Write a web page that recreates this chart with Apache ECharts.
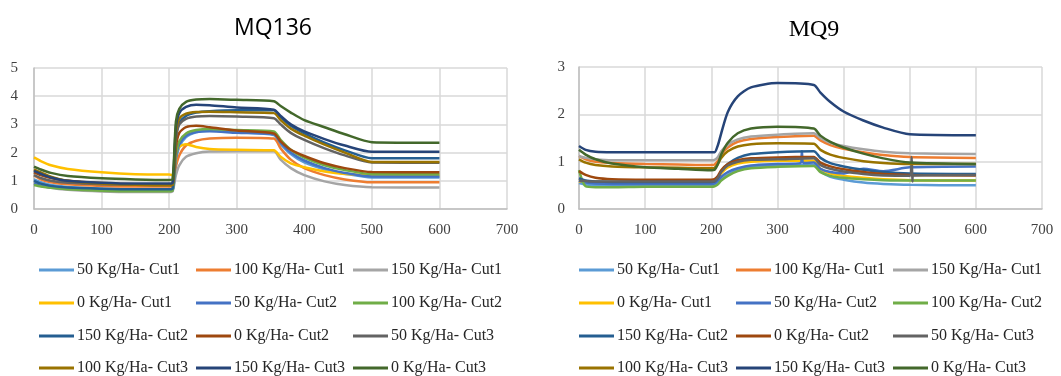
<!DOCTYPE html>
<html>
<head>
<meta charset="utf-8">
<script src="https://cdn.jsdelivr.net/npm/echarts@6/dist/echarts.min.js"></script>
<style>
html,body{margin:0;padding:0;background:#fff;}
#c{width:1061px;height:376px;}
</style>
</head>
<body>
<div id="c"></div>
<script>
// ---- DATA ----
const seriesNames = ["50 Kg/Ha- Cut1","100 Kg/Ha- Cut1","150 Kg/Ha- Cut1","0 Kg/Ha- Cut1",
  "50 Kg/Ha- Cut2","100 Kg/Ha- Cut2","150 Kg/Ha- Cut2","0 Kg/Ha- Cut2",
  "50 Kg/Ha- Cut3","100 Kg/Ha- Cut3","150 Kg/Ha- Cut3","0 Kg/Ha- Cut3"];
const colors = ["#5B9BD5","#ED7D31","#A5A5A5","#FFC000","#4472C4","#70AD47",
  "#255E91","#9E480E","#636363","#997300","#264478","#43682B"];
const xTime = [0,10,25,50,100,150,200,205,210,215,225,240,260,300,355,365,380,400,430,460,500,600];
const xTicks = [0,100,200,300,400,500,600,700];
const mq136Ticks = [0,1,2,3,4,5];
const mq9Ticks = [0,1,2,3];

// MQ136 values
const mq136_50_c1  = [1.05,0.95,0.85,0.78,0.72,0.70,0.70,0.70,1.70,2.20,2.55,2.72,2.78,2.72,2.62,2.30,1.95,1.65,1.40,1.25,1.12,1.12];
const mq136_100_c1 = [1.20,1.05,0.95,0.88,0.82,0.80,0.80,0.80,1.50,1.90,2.25,2.42,2.50,2.53,2.50,2.15,1.75,1.45,1.20,1.05,0.95,0.95];
const mq136_150_c1 = [0.95,0.85,0.75,0.68,0.62,0.60,0.60,0.62,1.20,1.55,1.85,1.98,2.04,2.05,2.05,1.75,1.45,1.20,0.98,0.85,0.77,0.76];
const mq136_0_c1   = [1.83,1.70,1.55,1.42,1.30,1.23,1.22,1.20,1.90,2.20,2.30,2.20,2.13,2.10,2.08,1.85,1.62,1.48,1.33,1.24,1.20,1.20];
const mq136_50_c2  = [0.90,0.82,0.76,0.72,0.68,0.66,0.66,0.66,1.80,2.30,2.60,2.73,2.76,2.70,2.65,2.35,2.00,1.72,1.45,1.28,1.15,1.15];
const mq136_100_c2 = [0.85,0.80,0.75,0.70,0.65,0.63,0.63,0.65,1.90,2.40,2.68,2.80,2.84,2.80,2.75,2.45,2.10,1.82,1.55,1.38,1.24,1.23];
const mq136_150_c2 = [1.00,0.90,0.82,0.76,0.72,0.70,0.70,0.72,2.50,3.05,3.30,3.42,3.47,3.50,3.50,3.25,2.95,2.68,2.35,2.08,1.80,1.80];
const mq136_0_c2   = [1.30,1.20,1.10,1.00,0.92,0.88,0.87,0.88,2.20,2.70,2.90,2.95,2.90,2.78,2.68,2.40,2.10,1.88,1.62,1.45,1.31,1.30];
const mq136_50_c3  = [1.20,1.10,1.00,0.93,0.88,0.86,0.85,0.86,2.50,3.00,3.20,3.28,3.30,3.28,3.22,3.00,2.70,2.45,2.15,1.90,1.65,1.64];
const mq136_100_c3 = [1.40,1.30,1.15,1.00,0.90,0.86,0.84,0.85,2.70,3.20,3.38,3.44,3.45,3.43,3.40,3.15,2.85,2.60,2.28,2.00,1.67,1.67];
const mq136_150_c3 = [1.35,1.25,1.12,1.00,0.93,0.90,0.90,0.92,2.90,3.40,3.62,3.70,3.68,3.60,3.52,3.30,3.00,2.75,2.48,2.25,2.03,2.03];
const mq136_0_c3   = [1.50,1.40,1.28,1.17,1.09,1.05,1.03,1.05,3.10,3.55,3.80,3.88,3.90,3.87,3.82,3.65,3.42,3.15,2.90,2.65,2.37,2.35];

// MQ9 values
const mq9_50_c1  = [0.55,0.52,0.51,0.50,0.50,0.50,0.50,0.50,0.55,0.62,0.72,0.82,0.88,0.92,0.93,0.80,0.68,0.62,0.56,0.53,0.51,0.50];
const mq9_100_c1 = [1.12,1.05,1.00,0.97,0.95,0.94,0.93,0.94,1.02,1.15,1.30,1.42,1.48,1.52,1.55,1.45,1.35,1.27,1.20,1.14,1.10,1.08];
const mq9_150_c1 = [1.12,1.08,1.05,1.03,1.03,1.03,1.03,1.04,1.10,1.22,1.36,1.47,1.53,1.57,1.60,1.50,1.40,1.33,1.26,1.21,1.18,1.16];
const mq9_0_c1   = [0.58,0.57,0.57,0.57,0.57,0.57,0.57,0.58,0.65,0.75,0.88,0.96,1.00,1.02,1.02,0.85,0.75,0.70,0.66,0.63,0.61,0.60];
const mq9_50_c2  = [0.60,0.56,0.54,0.53,0.53,0.53,0.53,0.54,0.60,0.68,0.78,0.86,0.92,0.95,0.98,0.85,0.78,0.75,0.85,0.80,0.88,0.90];
const mq9_100_c2 = [0.82,0.48,0.46,0.46,0.47,0.47,0.47,0.48,0.52,0.60,0.70,0.80,0.86,0.89,0.91,0.78,0.70,0.66,0.63,0.61,0.60,0.60];
const mq9_150_c2 = [0.65,0.60,0.58,0.57,0.57,0.57,0.57,0.58,0.66,0.80,0.95,1.08,1.16,1.20,1.22,1.08,0.97,0.90,0.83,0.78,0.75,0.74];
const mq9_0_c2   = [0.80,0.72,0.66,0.63,0.62,0.62,0.62,0.63,0.70,0.82,0.95,1.03,1.07,1.09,1.10,0.98,0.90,0.84,0.78,0.74,0.72,0.71];
const mq9_50_c3  = [0.60,0.59,0.58,0.58,0.58,0.58,0.58,0.59,0.66,0.78,0.92,1.00,1.04,1.05,1.07,0.93,0.85,0.79,0.74,0.71,0.70,0.72];
const mq9_100_c3 = [1.05,0.98,0.93,0.90,0.88,0.87,0.86,0.87,0.95,1.08,1.22,1.32,1.37,1.39,1.38,1.25,1.15,1.08,1.01,0.97,0.95,0.95];
const mq9_150_c3 = [1.33,1.25,1.21,1.20,1.20,1.20,1.20,1.20,1.35,1.60,2.05,2.38,2.57,2.66,2.62,2.46,2.26,2.06,1.87,1.72,1.58,1.56];
const mq9_0_c3   = [1.25,1.15,1.05,0.96,0.88,0.85,0.82,0.83,0.95,1.15,1.40,1.60,1.70,1.74,1.70,1.55,1.42,1.30,1.17,1.07,0.98,0.95];

// isolated glitches visible in MQ9 traces
const mq9_50_c2_spike = [[335,0.97],[337,1.22],[339,0.97]];
const mq9_50_c3_spike = [[503,1.10],[504,0.58],[505,0.71]];

const mq136Vals = [mq136_50_c1,mq136_100_c1,mq136_150_c1,mq136_0_c1,mq136_50_c2,mq136_100_c2,
  mq136_150_c2,mq136_0_c2,mq136_50_c3,mq136_100_c3,mq136_150_c3,mq136_0_c3];
const mq9Vals = [mq9_50_c1,mq9_100_c1,mq9_150_c1,mq9_0_c1,mq9_50_c2,mq9_100_c2,
  mq9_150_c2,mq9_0_c2,mq9_50_c3,mq9_100_c3,mq9_150_c3,mq9_0_c3];

// ---- BUILD ----
function pairs(vals, extra){
  let d = xTime.map((x,i)=>[x, vals[i]]);
  if (extra) { d = d.concat(extra).sort((a,b)=>a[0]-b[0]); }
  return d;
}
const serifFont = '"Liberation Serif","Times New Roman",serif';
const axisLbl = {color:'#404040', fontFamily: serifFont, fontSize: 15};
function xAxis(gi){
  return {type:'value', gridIndex:gi, min:0, max:700, interval:100,
    axisLine:{show:true, lineStyle:{color:'#BFBFBF', width:1.5}}, axisTick:{show:false},
    splitLine:{show:true, lineStyle:{color:'#D9D9D9', width:1.5}},
    axisLabel:{...axisLbl, margin:14, formatter:(v)=> xTicks.includes(v)? String(v):''}};
}
function yAxis(gi, max, ticks, m){
  return {type:'value', gridIndex:gi, min:0, max:max, interval:1,
    axisLine:{show:true, lineStyle:{color:'#BFBFBF', width:1.5}}, axisTick:{show:false},
    splitLine:{show:true, lineStyle:{color:'#D9D9D9', width:1.5}},
    axisLabel:{...axisLbl, margin:m, formatter:(v)=> ticks.includes(v)? String(v):''}};
}
const series = [];
seriesNames.forEach((n,i)=>{
  series.push({name:n, type:'line', xAxisIndex:0, yAxisIndex:0, data:pairs(mq136Vals[i]),
    showSymbol:false, symbol:'none', smooth:0.25, color:colors[i],
    lineStyle:{width:2.5, color:colors[i]}, emphasis:{disabled:true}, animation:false});
});
seriesNames.forEach((n,i)=>{
  let extra = null;
  if (i===4) extra = mq9_50_c2_spike;
  if (i===8) extra = mq9_50_c3_spike;
  series.push({name:n, type:'line', xAxisIndex:1, yAxisIndex:1, data:pairs(mq9Vals[i], extra),
    showSymbol:false, symbol:'none', smooth:0.25, color:colors[i],
    lineStyle:{width:2.5, color:colors[i]}, emphasis:{disabled:true}, animation:false});
});

// legend: 4 rows x 3 columns per chart, one horizontal legend per row
const rows = [[0,1,2],[3,4,5],[6,7,8],[9,10,11]];
const rowTops = [262,295,328,360];
const legendLefts = [39, 579];
const legends = [];
legendLefts.forEach(lx=>{
  rows.forEach((r,ri)=>{
    legends.push({orient:'horizontal', left:lx, top:rowTops[ri], itemWidth:35, itemHeight:3, itemGap:4,
      icon:'rect', selectedMode:false, padding:0,
      formatter: (name)=> '{t|' + name + '}',
      textStyle:{color:'#262626', fontFamily:serifFont, fontSize:16,
        rich:{t:{width:115, fontFamily:serifFont, fontSize:16, color:'#262626', lineHeight:16, padding:[0,0,0,-2]}}},
      data: r.map(k=>seriesNames[k])});
  });
});

const option = {
  backgroundColor:'#fff',
  animation:false,
  title:[
    {text:'MQ136', left:268, top:12, textAlign:'center',
      textStyle:{fontFamily:'"Open Sans","Liberation Sans",sans-serif', fontWeight:'normal', fontSize:23, color:'#000'}},
    {text:'MQ9', left:809, top:13, textAlign:'center',
      textStyle:{fontFamily:serifFont, fontWeight:'normal', fontSize:24, color:'#000'}}
  ],
  grid:[
    {left:34, right:554, top:68, bottom:167},
    {left:579, right:19, top:67, bottom:167}
  ],
  xAxis:[xAxis(0), xAxis(1)],
  yAxis:[yAxis(0,5,mq136Ticks,16), yAxis(1,3,mq9Ticks,14)],
  legend: legends,
  series: series
};
const chart = echarts.init(document.getElementById('c'), null, {renderer:'canvas'});
chart.setOption(option);
</script>
</body>
</html>
